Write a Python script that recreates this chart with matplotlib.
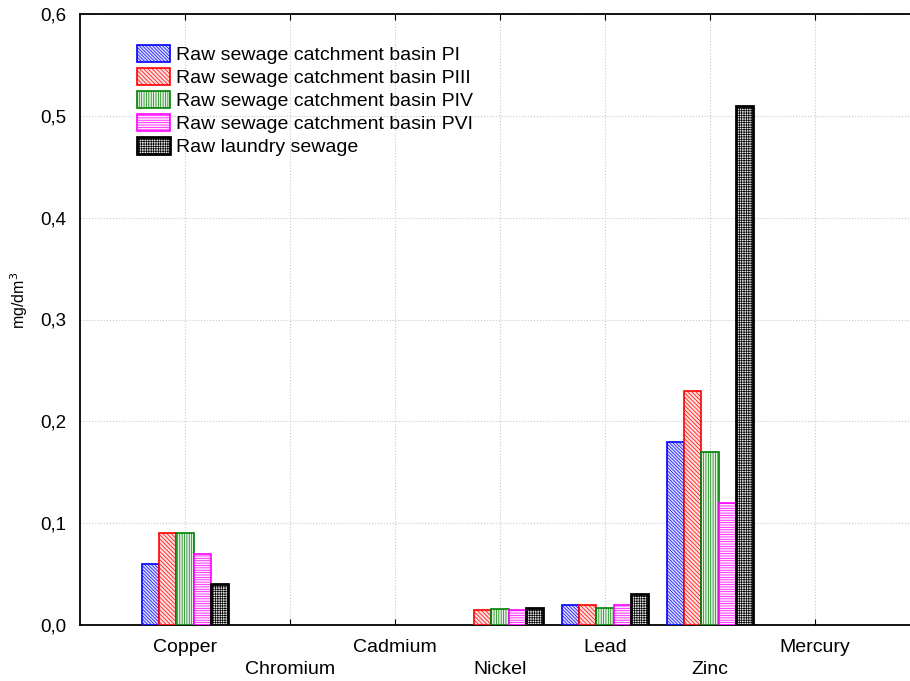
import numpy as np
import matplotlib.pyplot as plt

plt.rcParams['font.family'] = ['Liberation Sans', 'DejaVu Sans']
plt.rcParams['hatch.linewidth'] = 0.5

# metals on the x axis
metals = ['Copper', 'Chromium', 'Cadmium', 'Nickel', 'Lead', 'Zinc', 'Mercury']

# concentrations, mg/dm3 (0 = not detected)
pi_vals = [0.06, 0.0, 0.0, 0.0, 0.02, 0.18, 0.0]
piii_vals = [0.09, 0.0, 0.0, 0.015, 0.02, 0.23, 0.0]
piv_vals = [0.09, 0.0, 0.0, 0.016, 0.017, 0.17, 0.0]
pvi_vals = [0.07, 0.0, 0.0, 0.015, 0.02, 0.12, 0.0]
laundry_vals = [0.04, 0.0, 0.0, 0.017, 0.03, 0.51, 0.0]

series_names = ['Raw sewage catchment basin PI',
                'Raw sewage catchment basin PIII',
                'Raw sewage catchment basin PIV',
                'Raw sewage catchment basin PVI',
                'Raw laundry sewage']

series = [pi_vals, piii_vals, piv_vals, pvi_vals, laundry_vals]
colors = ['#0000ff', '#ff0000', '#008000', '#ff00ff', '#000000']
fills = ['#dcdcff', '#ffdcdc', '#e2f2e2', '#ffe6ff', '#e8e8e8']
hatches = ['\\' * 10, '\\' * 8, '|' * 7, '-' * 7, '+' * 7]
lws = [1.2, 1.2, 1.2, 1.2, 2.0]

fig = plt.figure(figsize=(9.1, 6.81), dpi=100)
# axis runs a little past the right edge of the picture, like the original
ax = fig.add_axes([80 / 910, 56 / 681, 840 / 910, 611 / 681])

x = np.arange(len(metals))
w = 0.165
for i, (vals, name) in enumerate(zip(series, series_names)):
    vals = np.array(vals)
    ax.bar(x + (i - 2) * w, np.where(vals > 0, vals, np.nan), width=w,
           facecolor=fills[i], edgecolor=colors[i], hatch=hatches[i],
           linewidth=lws[i], label=name, zorder=3)

ax.set_xlim(-1, 7)
ax.set_ylim(0, 0.6)
ax.set_yticks(np.arange(0, 0.61, 0.1))
ax.set_yticklabels([f'{v:.1f}'.replace('.', ',') for v in np.arange(0, 0.61, 0.1)])
ax.set_xticks(x)
ax.set_xticklabels([m if i % 2 == 0 else '\n' + m for i, m in enumerate(metals)],
                   linespacing=1.4)

ax.tick_params(axis='x', direction='in', length=4, top=True, pad=10, labelsize=14)
ax.tick_params(axis='y', direction='in', length=0, pad=10, labelsize=13.5)
ax.grid(True, linestyle=':', color='#c8c8c8', linewidth=0.8, zorder=0)
for s in ax.spines.values():
    s.set_linewidth(1.3)

ax.set_ylabel('mg/dm$^3$', fontsize=11.5)
ax.yaxis.set_label_coords(-0.059, 0.532)

ax.legend(loc='upper left', bbox_to_anchor=(0.068, 0.949), frameon=False,
          fontsize=14, handlelength=1.7, handleheight=0.95, borderpad=0,
          handletextpad=0.3, labelspacing=0.2, borderaxespad=0)

fig.savefig('out.png', dpi=100)
